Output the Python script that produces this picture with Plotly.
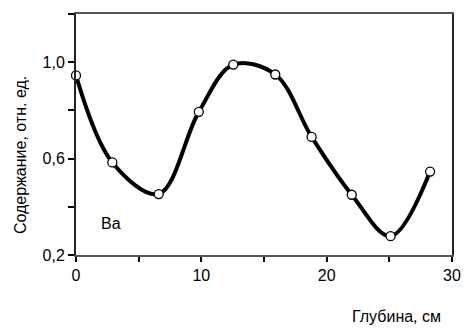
import plotly.graph_objects as go

depth = [0.0, 2.9, 6.6, 9.8, 12.55, 15.9, 18.8, 22.0, 25.1, 28.25]
content = [0.945, 0.584, 0.453, 0.794, 0.99, 0.949, 0.69, 0.45, 0.278, 0.546]
element_label = "Ba"
x_title = "Глубина, см"
y_title = "Содержание, отн. ед."
y_tickvals = [0.2, 0.4, 0.6, 0.8, 1.0, 1.2]
y_ticktext = ["0,2", "", "0,6", "", "1,0", ""]
x_tickvals = [0, 5, 10, 15, 20, 25, 30]
x_ticktext = ["0", "", "10", "", "20", "", "30"]

font_fam = "Liberation Sans Narrow, Arial Narrow, Liberation Sans, Arial, sans-serif"

fig = go.Figure()
fig.add_trace(go.Scatter(
    x=depth, y=content, mode="lines+markers",
    line=dict(color="black", width=4, shape="spline", smoothing=1.0),
    marker=dict(symbol="circle", size=9, color="white",
                line=dict(color="black", width=1.3)),
    showlegend=False, cliponaxis=False,
))

fig.add_annotation(x=2.8, y=0.33, text=element_label, showarrow=False,
                   font=dict(size=16, family="Liberation Sans, Arial, sans-serif", color="black"))
fig.add_annotation(x=0.976, y=-0.257, xref="paper", yref="paper", text=x_title,
                   showarrow=False, xanchor="right", yanchor="middle",
                   font=dict(size=16, family="Liberation Sans, Arial, sans-serif", color="black"))
fig.add_annotation(x=-0.146, y=0.415, xref="paper", yref="paper", text=y_title,
                   showarrow=False, textangle=-90, xanchor="center", yanchor="middle",
                   font=dict(size=16, family="Liberation Sans, Arial, sans-serif", color="black"))

fig.update_layout(
    width=473, height=329,
    margin=dict(l=76, r=14, t=14, b=74),
    plot_bgcolor="white", paper_bgcolor="white",
    separators=",.",
    font=dict(family=font_fam, size=16, color="black"),
    xaxis=dict(range=[0, 30], tickvals=x_tickvals, ticktext=x_ticktext,
               showgrid=False, zeroline=False, showline=True, linecolor="#555555",
               linewidth=2, ticks="outside", ticklen=5, tickcolor="black",
               tickwidth=1.5, mirror=True),
    yaxis=dict(range=[0.2, 1.2], tickvals=y_tickvals, ticktext=y_ticktext,
               showgrid=False, zeroline=False, showline=True, linecolor="#222222",
               linewidth=2, ticks="outside", ticklen=6, tickcolor="black",
               tickwidth=1.5, mirror=True),
)

fig.write_html("out.html")
